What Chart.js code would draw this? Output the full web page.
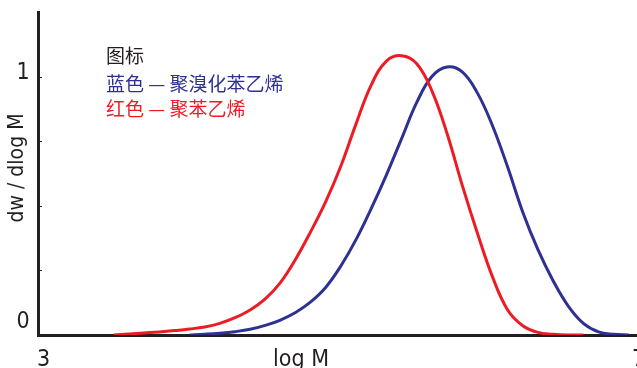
<!DOCTYPE html>
<html>
<head>
<meta charset="utf-8">
<script src="https://cdn.jsdelivr.net/npm/chart.js@4"></script>
<style>
  html, body { margin: 0; padding: 0; background: #fff; overflow: hidden; }
  #wrap { width: 650px; height: 368px; }
</style>
</head>
<body>
<div id="wrap"><canvas id="gpcChart" width="650" height="368"></canvas></div>
<script>
// log M values
const redX  = [3.5, 3.6, 3.7, 3.8, 3.9, 4.0, 4.1, 4.2, 4.3, 4.4, 4.5, 4.6, 4.7, 4.8, 4.9, 5.0, 5.1, 5.2, 5.3, 5.4, 5.5, 5.6, 5.7, 5.8, 5.9, 6.0, 6.1, 6.2, 6.3, 6.4, 6.5, 6.6];
const redY  = [0, 0.004, 0.008, 0.012, 0.017, 0.023, 0.031, 0.045, 0.067, 0.097, 0.140, 0.203, 0.293, 0.400, 0.517, 0.655, 0.818, 0.968, 1.060, 1.081, 1.050, 0.945, 0.780, 0.580, 0.395, 0.225, 0.097, 0.036, 0.010, 0.003, 0, 0];
const blueX = [4.0, 4.1, 4.2, 4.3, 4.4, 4.5, 4.6, 4.7, 4.8, 4.9, 5.0, 5.1, 5.2, 5.3, 5.4, 5.5, 5.6, 5.7, 5.8, 5.9, 6.0, 6.1, 6.2, 6.3, 6.4, 6.5, 6.6, 6.7, 6.8, 6.9];
const blueY = [0, 0.003, 0.007, 0.013, 0.022, 0.037, 0.058, 0.087, 0.128, 0.185, 0.268, 0.370, 0.490, 0.620, 0.760, 0.900, 1.000, 1.037, 1.018, 0.937, 0.810, 0.650, 0.475, 0.330, 0.210, 0.112, 0.045, 0.012, 0.003, 0];
const xTicks = [3, 3.8, 4.6, 5.4, 6.2, 7];
const yTicks = [0, 0.25, 0.5, 0.75, 1];
const legendLines = ['图标', '蓝色 — 聚溴化苯乙烯', '红色 — 聚苯乙烯'];

const BLUE = '#2e3192';
const RED = '#ed1c24';
const INK = '#231f20';
const NARROW = '"Liberation Sans Narrow", "DejaVu Sans Condensed", sans-serif';

function toPoints(xs, ys) {
  return xs.map((x, i) => ({ x: x, y: ys[i] }));
}

const textPlugin = {
  id: 'gpcText',
  afterDraw(chart) {
    const ctx = chart.ctx;
    const xs = chart.scales.x;
    const ys = chart.scales.y;
    ctx.save();
    // small tick marks
    ctx.strokeStyle = INK;
    ctx.lineWidth = 1;
    yTicks.slice(1).forEach(v => {
      const py = Math.round(ys.getPixelForValue(v)) + 0.5;
      ctx.beginPath();
      ctx.moveTo(xs.left, py);
      ctx.lineTo(xs.left + 4, py);
      ctx.stroke();
    });
    xTicks.slice(1, -1).forEach(v => {
      const px = Math.round(xs.getPixelForValue(v)) + 0.5;
      ctx.beginPath();
      ctx.moveTo(px, ys.bottom - 1);
      ctx.lineTo(px, ys.bottom + 2);
      ctx.stroke();
    });

    // axis labels
    ctx.fillStyle = INK;
    ctx.font = '23px ' + NARROW;
    ctx.textBaseline = 'middle';
    ctx.textAlign = 'center';
    ctx.fillText('1', 23, ys.getPixelForValue(1) - 4);
    ctx.fillText('0', 23, ys.getPixelForValue(0) - 13);
    ctx.textAlign = 'left';
    ctx.fillText('3', xs.getPixelForValue(3) - 1, 360);
    ctx.fillText('7', xs.getPixelForValue(7) - 12, 360);
    ctx.textAlign = 'center';
    ctx.fillText('log M', 301, 360);
    ctx.save();
    ctx.font = '21px ' + NARROW;
    ctx.translate(18, 168);
    ctx.rotate(-Math.PI / 2);
    ctx.fillText('dw / dlog M', 0, 0);
    ctx.restore();

    // legend text
    ctx.font = '19px "Noto Sans CJK SC", sans-serif';
    ctx.textAlign = 'left';
    const colors = [INK, BLUE, RED];
    const rows = [56, 84, 109];
    legendLines.forEach((t, i) => {
      ctx.fillStyle = colors[i];
      ctx.fillText(t, 106, rows[i]);
    });
    ctx.restore();
  }
};

new Chart(document.getElementById('gpcChart').getContext('2d'), {
  type: 'line',
  data: {
    datasets: [{
      label: '聚苯乙烯',
      data: toPoints(redX, redY),
      borderColor: RED,
      borderWidth: 3,
      pointRadius: 0,
      tension: 0.4,
      fill: false
    }, {
      label: '聚溴化苯乙烯',
      data: toPoints(blueX, blueY),
      borderColor: BLUE,
      borderWidth: 3,
      pointRadius: 0,
      tension: 0.4,
      fill: false
    }]
  },
  options: {
    responsive: false,
    animation: false,
    layout: { padding: { top: 12, right: 6, left: 0, bottom: 0 } },
    plugins: { legend: { display: false }, tooltip: { enabled: false } },
    scales: {
      x: {
        type: 'linear',
        min: 3,
        max: 7,
        ticks: { display: false },
        grid: { display: false },
        border: { display: true, color: INK, width: 3 },
        afterFit: s => { s.height = 33; }
      },
      y: {
        min: 0,
        max: 1.25,
        ticks: { display: false },
        grid: { display: false },
        border: { display: true, color: INK, width: 3 },
        afterFit: s => { s.width = 38; }
      }
    }
  },
  plugins: [textPlugin]
});
</script>
</body>
</html>
